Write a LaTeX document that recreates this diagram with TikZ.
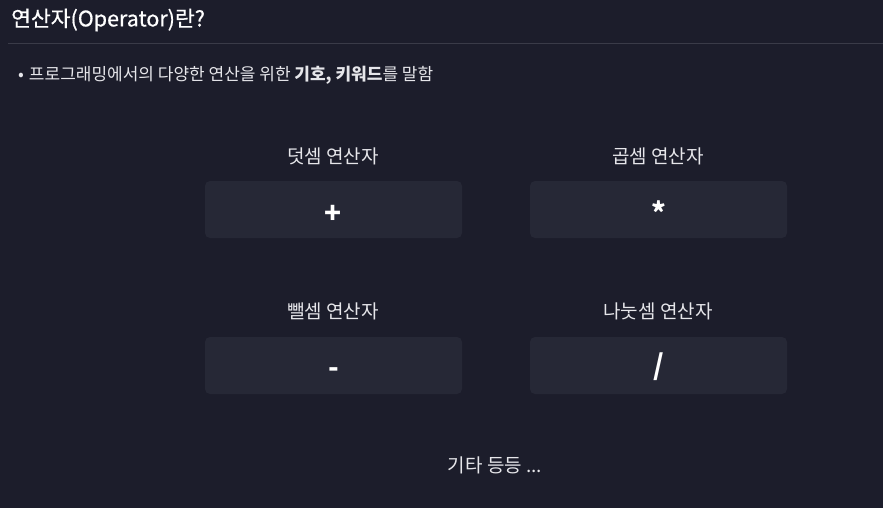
\documentclass[tikz,border=0pt]{standalone}
\usepackage{fontspec}
\setmainfont{Noto Sans CJK KR}
\newfontfamily\titlefont{Noto Sans CJK KR}[FakeBold=0.6]
\definecolor{bgc}{HTML}{1C1D2B}
\definecolor{boxc}{HTML}{262836}
\definecolor{linec}{HTML}{3A3B48}
\definecolor{txtc}{HTML}{E6E6EA}
\begin{document}
\begin{tikzpicture}[x=1pt,y=-1pt,
  opbox/.style={fill=boxc,rounded corners=5pt,minimum width=257pt,minimum height=57pt,inner sep=0pt,text height=10pt,text depth=10pt,text=white,font=\fontsize{28}{28}\selectfont\bfseries},
  oplabel/.style={text=txtc,font=\fontsize{19}{22}\selectfont,inner sep=0pt}]
\fill[bgc] (0,0) rectangle (883,508);
\useasboundingbox (0,0) rectangle (883,508);
\node[anchor=west,text=white,inner sep=0pt,font=\titlefont\fontsize{21.5}{24}\selectfont] (title) at (11,20) {연산자(Operator)란?};
\draw[linec,line width=1pt] (8,43.5) -- (883,43.5);
\node[anchor=west,text=txtc,inner sep=0pt,font=\fontsize{17}{20}\selectfont] (bullet) at (18,75) {\textbullet\hspace{5pt}프로그래밍에서의 다양한 연산을 위한 \textbf{기호, 키워드}를 말함};
\node[opbox] (plus) at (333.5,209.5) {\raisebox{-14pt}{+}};
\node[opbox] (mul) at (658.5,209.5) {\raisebox{-14pt}{*}};
\node[opbox] (minus) at (333.5,365.5) {\raisebox{-12pt}{-}};
\node[opbox] (div) at (658.5,365.5) {\raisebox{-9.5pt}{/}};
\node[oplabel] (lplus) at (333,156) {덧셈 연산자};
\node[oplabel] (lmul) at (658,156) {곱셈 연산자};
\node[oplabel] (lminus) at (333,311) {뺄셈 연산자};
\node[oplabel] (ldiv) at (658,311) {나눗셈 연산자};
\node[oplabel] (etc) at (495,465) {기타 등등 ...};
\end{tikzpicture}
\end{document}
